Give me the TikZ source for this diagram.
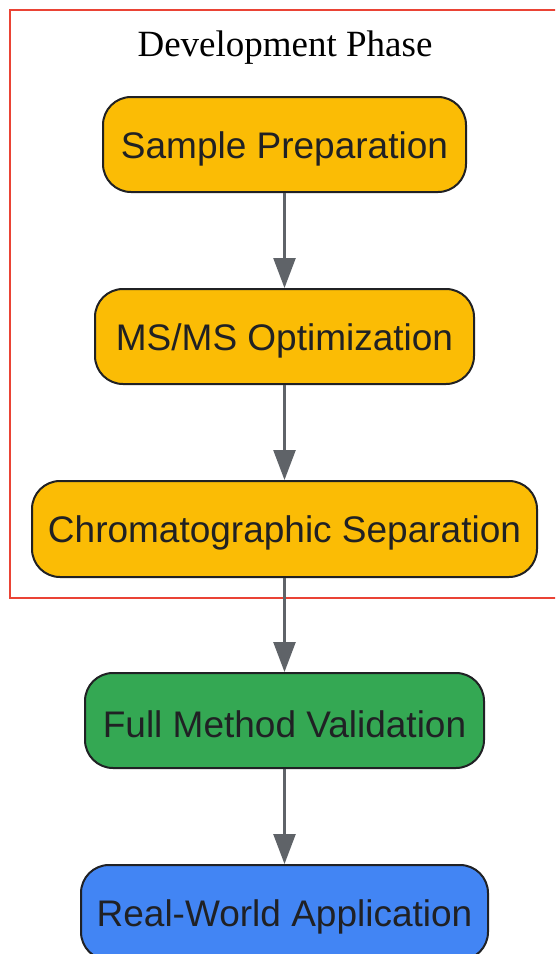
\documentclass[tikz,border=0pt]{standalone}
\usepackage{fontspec}
\setmainfont{Liberation Serif}
\newfontfamily\boxfont{Liberation Sans}
\usetikzlibrary{arrows.meta}
\definecolor{orangeF}{HTML}{FBBC05}
\definecolor{greenF}{HTML}{34A853}
\definecolor{blueF}{HTML}{4285F4}
\definecolor{edgeC}{HTML}{202124}
\definecolor{arrowC}{HTML}{5F6368}
\definecolor{frameC}{HTML}{EA4335}
\newcommand{\lowertext}[1]{\raisebox{-4pt}[\height][\depth]{#1}}
\tikzset{
  stepbox/.style={draw=edgeC, line width=2pt, rounded corners=28pt, align=center,
    text=edgeC, font=\boxfont\fontsize{37}{44}\selectfont, inner sep=0pt},
  flow/.style={draw=arrowC, line width=2.5pt, -{Triangle[width=22pt,length=30pt]}, shorten >=0pt}
}
\begin{document}
\begin{tikzpicture}[x=1pt,y=-1pt]
\useasboundingbox (0,0) rectangle (555,954);
\clip (0,0) rectangle (555,954);
\fill[white] (0,0) rectangle (555,954);
\draw[frameC, line width=2.2pt] (10,10) rectangle (570,598);
\node[font=\fontsize{37}{44}\selectfont, text=black] (title) at (285,48) {Development Phase};
\node[stepbox, fill=orangeF, minimum width=363pt, minimum height=95pt] (sp) at (284.5,144.5) {\lowertext{Sample Preparation}};
\node[stepbox, fill=orangeF, minimum width=379pt, minimum height=95pt] (ms) at (284.5,336.5) {\lowertext{MS/MS Optimization}};
\node[stepbox, fill=orangeF, minimum width=505pt, minimum height=96pt] (cs) at (284.5,529) {\lowertext{Chromatographic Separation}};
\node[stepbox, fill=greenF, minimum width=399pt, minimum height=95pt] (fv) at (284.5,720.5) {\lowertext{Full Method Validation}};
\node[stepbox, fill=blueF, minimum width=407pt, minimum height=95pt] (rw) at (284.5,912.5) {\lowertext{Real-World Application}};
\draw[flow] (sp) -- (ms);
\draw[flow] (ms) -- (cs);
\draw[flow] (cs) -- (fv);
\draw[flow] (fv) -- (rw);
\end{tikzpicture}
\end{document}
